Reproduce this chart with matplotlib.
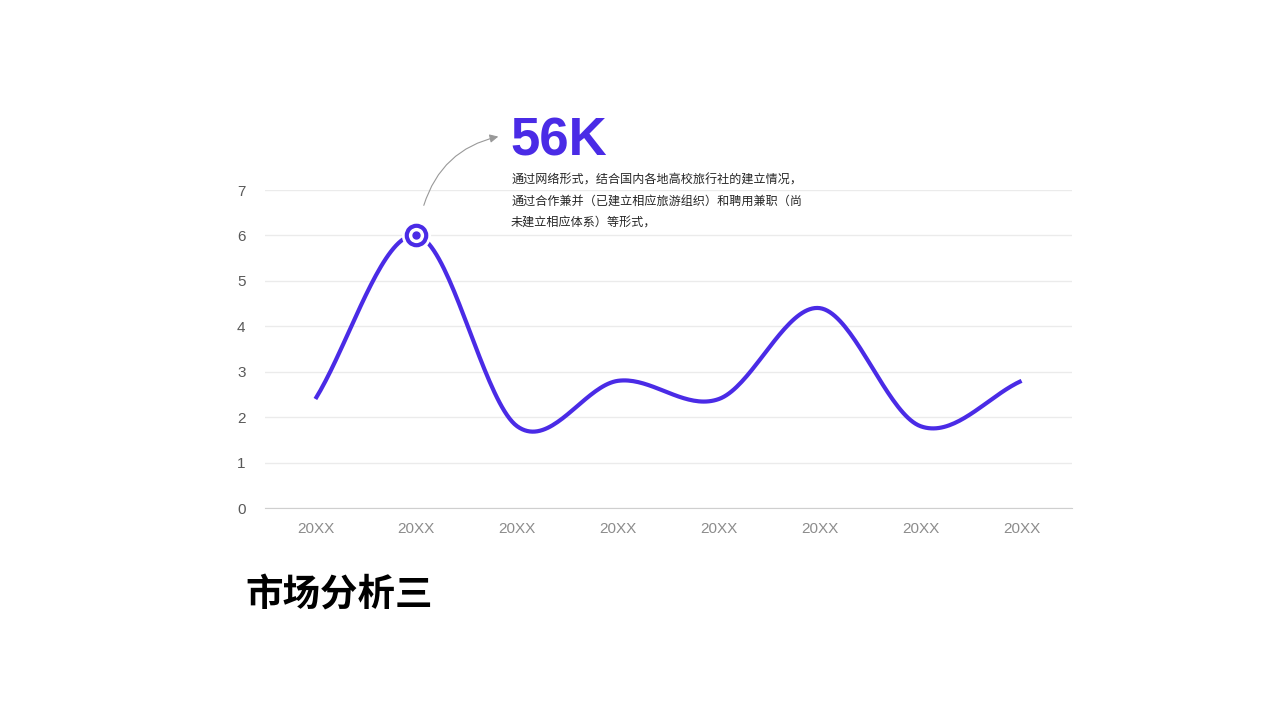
import numpy as np
import matplotlib
matplotlib.use("Agg")
import matplotlib.pyplot as plt

plt.rcParams['font.family'] = ['Noto Sans CJK SC', 'DejaVu Sans']

# data
years = ["20XX"] * 8
values = [2.4, 6.0, 1.8, 2.8, 2.4, 4.4, 1.8, 2.8]
yticks = [0, 1, 2, 3, 4, 5, 6, 7]
highlight = 1
big_number = "56K"
desc_lines = ["通过网络形式，结合国内各地高校旅行社的建立情况，",
              "通过合作兼并（已建立相应旅游组织）和聘用兼职（尚",
              "未建立相应体系）等形式，"]
title = "市场分析三"

PURPLE = "#4a2be6"


def smooth(xs, ys, n=40):
    # catmull-rom style curve through the points (like a "smoothed line")
    xs = np.asarray(xs, float)
    ys = np.asarray(ys, float)
    m = np.zeros_like(ys)
    m[1:-1] = (ys[2:] - ys[:-2]) / 2.0
    m[0] = ys[1] - ys[0]
    m[-1] = ys[-1] - ys[-2]
    ox, oy = [], []
    for i in range(len(xs) - 1):
        t = np.linspace(0, 1, n, endpoint=(i == len(xs) - 2))
        h00 = 2*t**3 - 3*t**2 + 1
        h10 = t**3 - 2*t**2 + t
        h01 = -2*t**3 + 3*t**2
        h11 = t**3 - t**2
        ox.append(xs[i] + t * (xs[i+1] - xs[i]))
        oy.append(h00*ys[i] + h10*m[i] + h01*ys[i+1] + h11*m[i+1])
    return np.concatenate(ox), np.concatenate(oy)


fig = plt.figure(figsize=(12.8, 7.2), dpi=100)
ax = fig.add_axes([0.207, 0.2944, 0.6305, 0.4417])

x = np.arange(len(values))
sx, sy = smooth(x, values)
ax.plot(sx, sy, color=PURPLE, lw=3, solid_capstyle='butt', zorder=3)

# highlighted point: ring with white halo and inner dot
hx, hy = x[highlight], values[highlight]
ax.plot(hx, hy, 'o', ms=20, mfc='white', mec='white', zorder=4)
ax.plot(hx, hy, 'o', ms=14, mfc='white', mec=PURPLE, mew=3, zorder=5)
ax.plot(hx, hy, 'o', ms=5, mfc=PURPLE, mec=PURPLE, zorder=6)

ax.set_xlim(-0.5, len(values) - 0.5)
ax.set_ylim(0, 7)
ax.set_yticks(yticks)
ax.set_xticks(x)
ax.set_xticklabels(years)
ax.grid(axis='y', color='#ebebeb', lw=1)
ax.set_axisbelow(True)
for s in ['top', 'right', 'left']:
    ax.spines[s].set_visible(False)
ax.spines['bottom'].set_color('#cfcfcf')
ax.tick_params(axis='both', length=0)
ax.tick_params(axis='y', labelsize=11, labelcolor='#595959', pad=14)
ax.tick_params(axis='x', labelsize=11, labelcolor='#8c8c8c', pad=10)
for lab in ax.get_xticklabels() + ax.get_yticklabels():
    lab.set_family(['Liberation Sans', 'DejaVu Sans'])

# callout arrow
fig.patches.append(matplotlib.patches.FancyArrowPatch(
    (423/1280, 1 - 208/720), (501/1280, 1 - 136/720),
    transform=fig.transFigure, connectionstyle="arc3,rad=-0.3",
    arrowstyle="-|>,head_length=5,head_width=2.5", color='#999999', lw=0.8))

fig.text(510/1280, 1 - 141/720, big_number, color=PURPLE, fontsize=38,
         fontweight='bold', family=['Liberation Sans', 'DejaVu Sans'],
         va='center', ha='left')
for i, line in enumerate(desc_lines):
    fig.text(511/1280, 1 - (180 + i * 21)/720, line, fontsize=8.7,
             color='#262626', va='center', ha='left')

fig.text(245/1280, 1 - 594/720, title, fontsize=27, fontweight='bold',
         color='black', va='center', ha='left')

fig.savefig("out.png", dpi=100, facecolor='white')
